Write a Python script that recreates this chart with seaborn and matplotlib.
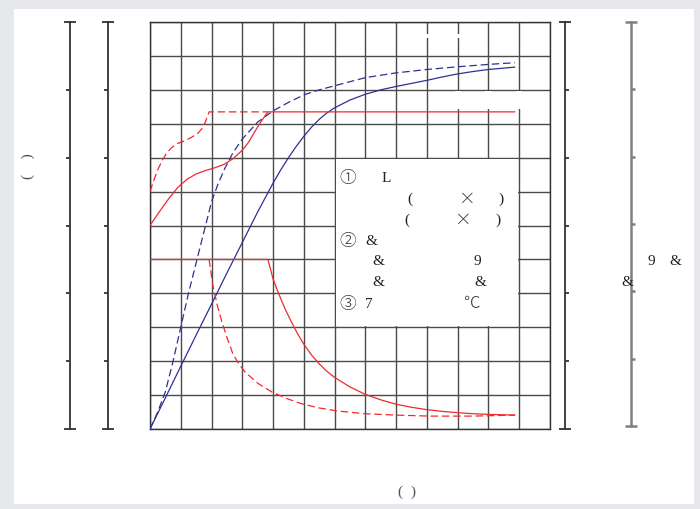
import matplotlib
matplotlib.use('Agg')
import matplotlib.pyplot as plt
import seaborn as sns
from matplotlib.patches import Rectangle

sns.set_style('white')
plt.rcParams['font.family'] = ['Liberation Serif', 'Noto Sans CJK JP', 'DejaVu Sans']

W, H = 700, 510

# ejes en unidades de cuadricula
n_cols = 13
n_rows = 12

# curvas (x, y en celdas)
azul_x = [0, 0.5, 1.0, 1.5, 2.0, 2.5, 3.0, 3.5, 4.0, 4.25, 4.5, 4.75, 5.0, 5.25, 5.5, 5.75, 6.0,
          6.5, 7.0, 7.5, 8.0, 8.5, 9.0, 9.5, 10.0, 10.5, 11.0, 11.5, 11.86]
azul_y = [0, 0.92, 1.85, 2.77, 3.68, 4.6, 5.5, 6.4, 7.25, 7.64, 8.0, 8.33, 8.63, 8.9, 9.13, 9.32, 9.47,
          9.7, 9.87, 10.0, 10.1, 10.19, 10.28, 10.38, 10.47, 10.54, 10.6, 10.64, 10.67]

azul_disc_x = [0, 0.25, 0.5, 0.75, 1.0, 1.25, 1.5, 1.75, 2.0, 2.2, 2.44, 2.7, 3.0, 3.5, 4.0, 4.5,
               5.0, 5.5, 6.0, 7.0, 8.0, 9.0, 10.0, 11.0, 11.86]
azul_disc_y = [0, 0.5, 1.1, 2.0, 3.0, 4.0, 4.9, 5.8, 6.7, 7.2, 7.7, 8.15, 8.55, 9.05, 9.38, 9.63,
               9.85, 10.0, 10.12, 10.36, 10.5, 10.6, 10.68, 10.75, 10.8]

rojo_sup_x = [0, 0.3, 0.6, 0.9, 1.2, 1.5, 1.8, 2.1, 2.4, 2.7, 3.0, 3.2, 3.4, 3.6, 3.83, 11.86]
rojo_sup_y = [6.0, 6.4, 6.78, 7.12, 7.36, 7.52, 7.62, 7.7, 7.8, 7.97, 8.22, 8.45, 8.76, 9.05, 9.35, 9.35]

rojo_sup_disc_x = [0, 0.13, 0.26, 0.4, 0.55, 0.71, 0.9, 1.14, 1.35, 1.56, 1.7, 1.8, 1.92, 3.83]
rojo_sup_disc_y = [7.0, 7.35, 7.66, 7.92, 8.15, 8.3, 8.42, 8.5, 8.6, 8.72, 8.87, 9.05, 9.35, 9.35]

rojo_inf_x = [0, 3.83, 3.92, 4.0, 4.2, 4.4, 4.6, 4.8, 5.0, 5.25, 5.5, 5.75, 6.0, 6.5, 7.0, 7.5, 8.0,
              8.5, 9.0, 9.5, 10.0, 10.5, 11.0, 11.86]
rojo_inf_y = [5.0, 5.0, 4.7, 4.42, 3.95, 3.52, 3.15, 2.8, 2.5, 2.18, 1.92, 1.7, 1.52, 1.24, 1.02, 0.86,
              0.73, 0.64, 0.57, 0.52, 0.48, 0.45, 0.43, 0.41]

rojo_inf_disc_x = [1.92, 2.0, 2.05, 2.2, 2.34, 2.5, 2.7, 2.9, 3.09, 3.5, 3.96, 4.5, 4.94, 5.5, 6.1,
                   7.0, 8.0, 9.1, 10.5, 11.86]
rojo_inf_disc_y = [5.0, 4.5, 4.2, 3.6, 3.15, 2.7, 2.2, 1.9, 1.68, 1.35, 1.09, 0.88, 0.74, 0.62, 0.53,
                   0.45, 0.41, 0.38, 0.38, 0.41]

rojo = '#ee2a2e'
azul = '#2e3192'


def fx(px):
    return px / W


def fy(py):
    return 1 - py / H


fig = plt.figure(figsize=(7, 5.1), dpi=100, facecolor='#e6e8eb')
fig.patches.append(Rectangle((fx(14), fy(505)), 680 / W, 495 / H, transform=fig.transFigure,
                             facecolor='white', edgecolor='none', zorder=-5))

ax = fig.add_axes([fx(150), fy(430), 400 / W, 407 / H])
ax.set_xlim(0, n_cols)
ax.set_ylim(0, n_rows)
ax.set_xticks(range(n_cols + 1))
ax.set_yticks(range(n_rows + 1))
ax.tick_params(length=0, labelbottom=False, labelleft=False)
ax.grid(True, color='#4a4a4a', linewidth=1.0)
ax.set_axisbelow(True)
for s in ax.spines.values():
    s.set_color('#333333')
    s.set_linewidth(1.0)
ax.patch.set_alpha(0)

# recuadro blanco de la leyenda
ax.add_patch(Rectangle((6.03, 3.03), 5.94, 4.94, facecolor='white', edgecolor='none', zorder=1.5))
# huecos pequeños en la cuadricula
for u in [9, 10]:
    ax.add_patch(Rectangle((u - 0.1, 11.53), 0.2, 0.12, facecolor='white', edgecolor='none', zorder=1.5))
for u in [10, 11, 12]:
    ax.add_patch(Rectangle((u - 0.1, 9.43), 0.2, 0.54, facecolor='white', edgecolor='none', zorder=1.5))

sns.lineplot(x=azul_x, y=azul_y, ax=ax, color=azul, linewidth=0.9, zorder=3)
sns.lineplot(x=azul_disc_x, y=azul_disc_y, ax=ax, color=azul, linewidth=0.9, linestyle=(0, (6, 3)), zorder=3)
sns.lineplot(x=rojo_sup_x, y=rojo_sup_y, ax=ax, color=rojo, linewidth=0.9, zorder=3)
sns.lineplot(x=rojo_sup_disc_x, y=rojo_sup_disc_y, ax=ax, color=rojo, linewidth=0.9, linestyle=(0, (6, 3)), zorder=3)
sns.lineplot(x=rojo_inf_x, y=rojo_inf_y, ax=ax, color=rojo, linewidth=0.9, zorder=3)
sns.lineplot(x=rojo_inf_disc_x, y=rojo_inf_disc_y, ax=ax, color=rojo, linewidth=0.9, linestyle=(0, (6, 3)), zorder=3)
ax.set_xlabel('')
ax.set_ylabel('')


# ejes secundarios (solo linea y marcas)
def eje(xpix, top, bottom, lado, color, lw):
    a = fig.add_axes([fx(xpix), fy(bottom), 0.0001, (bottom - top) / H])
    a.patch.set_alpha(0)
    for k in a.spines:
        a.spines[k].set_visible(k == lado)
    a.spines[lado].set_color(color)
    a.spines[lado].set_linewidth(lw)
    a.set_xticks([])
    a.set_ylim(0, 6)
    a.set_yticks([1, 2, 3, 4, 5])
    a.set_yticks([0, 6], minor=True)
    izq = lado == 'left'
    a.tick_params(axis='y', which='both', left=izq, right=not izq,
                  labelleft=False, labelright=False, color=color, width=lw)
    a.tick_params(axis='y', which='major', direction='out', length=3)
    a.tick_params(axis='y', which='minor', direction='inout', length=8)
    return a


eje(70, 23, 430, 'left', '#333333', 1.3)
eje(108, 23, 430, 'left', '#333333', 1.3)
eje(565, 23, 430, 'right', '#333333', 1.3)
eje(631, 23, 427, 'right', '#808080', 1.8)

# textos
fs = 11
cjk = ['Noto Sans CJK JP', 'DejaVu Sans']
fig.text(fx(28), fy(166), '(    )', rotation=90, ha='center', va='center', fontsize=fs, color='#555555')
fig.text(fx(407), fy(492), '(  )', ha='center', va='center', fontsize=fs, color='#555555')
fig.text(fx(627), fy(283), '&', ha='center', va='center', fontsize=fs, color='#222222')
fig.text(fx(651), fy(262), '9', ha='center', va='center', fontsize=fs, color='#222222')
fig.text(fx(675), fy(262), '&', ha='center', va='center', fontsize=fs, color='#222222')

caja = [
    ('①', 348, 179), ('L', 386, 179),
    ('(', 410, 199), ('×', 467, 199), (')', 501, 199),
    ('(', 407, 220), ('×', 463, 220), (')', 498, 220),
    ('②', 348, 242), ('&', 371, 242),
    ('&', 378, 262), ('9', 477, 262),
    ('&', 378, 283), ('&', 480, 283),
    ('③', 348, 304), ('7', 369, 304), ('℃', 472, 304),
]
for t, px, py in caja:
    if t in '①②③×℃':
        fig.text(fx(px), fy(py), t, ha='center', va='center', fontsize=fs + 1, color='#333333',
                 family=cjk, fontweight='light')
    else:
        fig.text(fx(px), fy(py), t, ha='center', va='center', fontsize=fs, color='#222222')

plt.savefig('out.png', dpi=100, facecolor=fig.get_facecolor())
